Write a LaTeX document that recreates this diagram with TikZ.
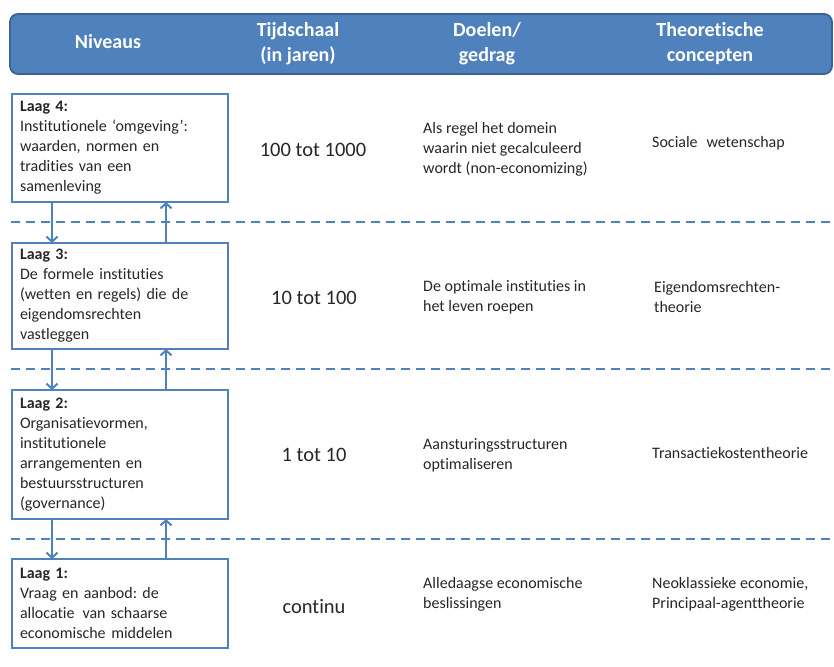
\documentclass[tikz,border=0pt]{standalone}
\usepackage{fontspec}
\setmainfont{Carlito}[Ligatures={NoCommon}]
\usetikzlibrary{arrows.meta}
\definecolor{hdrblue}{HTML}{4F81BD}
\definecolor{hdredge}{HTML}{3B6496}
\definecolor{txt}{HTML}{262626}
\frenchspacing

\begin{document}
\begin{tikzpicture}[x=1pt,y=-1pt,
  hdrbar/.style={draw=hdredge, line width=1.8pt, fill=hdrblue, rounded corners=8pt},
  hdr/.style={font=\fontsize{20}{25}\selectfont\bfseries, text=white, align=center, inner sep=0pt},
  laag/.style={draw=hdrblue, line width=2pt, outer sep=0pt, text width=200pt,
    inner xsep=8pt, inner ysep=0pt, align=left, anchor=north west,
    font=\fontsize{16}{20}\selectfont, text=txt},
  num/.style={font=\fontsize{20.5}{24}\selectfont, text=txt, inner sep=0pt},
  body/.style={font=\fontsize{16}{20}\selectfont, text=txt, align=left, anchor=west, inner sep=0pt},
  flow/.style={draw=hdrblue, line width=2pt, -{Straight Barb[length=5pt,width=11pt,line width=2pt]}},
  divider/.style={draw=hdrblue, line width=2pt, dash pattern=on 9pt off 6pt}
]
\useasboundingbox (0,0) rectangle (834,666);

% header bar with column titles
\node[hdrbar, minimum width=822pt, minimum height=60pt, anchor=north west, outer sep=0pt] (header) at (10,14) {};
\node[hdr] (h1) at (108,42) {Niveaus};
\node[hdr] (h2) at (298,44) {Tijdschaal\\(in jaren)};
\node[hdr] (h3) at (487,44) {Doelen/\\gedrag};
\node[hdr] (h4) at (710,44) {Theoretische\\concepten};

% level boxes
\node[laag, minimum height=108pt] (b4) at (12,94)
  {\textbf{Laag 4:}\\Institutionele ‘omgeving’:\\waarden, normen en\\tradities van een\\samenleving};
\node[laag, minimum height=106pt] (b3) at (12,243)
  {\textbf{Laag 3:}\\De formele instituties\\(wetten en regels) die de\\eigendomsrechten\\vastleggen};
\node[laag, minimum height=129pt] (b2) at (12,390)
  {\textbf{Laag 2:}\\Organisatievormen,\\institutionele\\arrangementen en\\bestuursstructuren\\(governance)};
\node[laag, minimum height=89pt] (b1) at (12,559)
  {\textbf{Laag 1:}\\Vraag en aanbod: de\\allocatie\hspace{0.5em}van schaarse\\economische\hspace{0.35em}middelen};

% dashed separators between the levels
\draw[divider] (11,222) -- (834,222);
\draw[divider] (11,369) -- (834,369);
\draw[divider] (11,539) -- (834,539);

% downward and upward influence between levels
\draw[flow] ([xshift=40pt]b4.south west) -- ([xshift=40pt]b3.north west);
\draw[flow] ([xshift=154pt]b3.north west) -- ([xshift=154pt]b4.south west);
\draw[flow] ([xshift=40pt]b3.south west) -- ([xshift=40pt]b2.north west);
\draw[flow] ([xshift=154pt]b2.north west) -- ([xshift=154pt]b3.south west);
\draw[flow] ([xshift=40pt]b2.south west) -- ([xshift=40pt]b1.north west);
\draw[flow] ([xshift=154pt]b1.north west) -- ([xshift=154pt]b2.south west);

% time scales
\node[num] (t4) at (313,150) {100 tot 1000};
\node[num] (t3) at (314,298) {10 tot 100};
\node[num] (t2) at (314,455) {1 tot 10};
\node[num] (t1) at (314,607) {continu};

% goals / behaviour
\node[body] (g4) at (423,149) {Als regel het domein\\waarin niet gecalculeerd\\wordt (non-economizing)};
\node[body] (g3) at (423,297) {De optimale instituties in\\het leven roepen};
\node[body] (g2) at (423,455) {Aansturingsstructuren\\optimaliseren};
\node[body] (g1) at (423,594) {Alledaagse economische\\beslissingen};

% theoretical concepts
\node[body] (c4) at (652,143) {Sociale\hspace{0.55em}wetenschap};
\node[body] (c3) at (654,297) {Eigendomsrechten-\\theorie};
\node[body] (c2) at (652,453) {Transactiekostentheorie};
\node[body] (c1) at (652,594) {Neoklassieke economie,\\Principaal-agenttheorie};
\end{tikzpicture}
\end{document}
